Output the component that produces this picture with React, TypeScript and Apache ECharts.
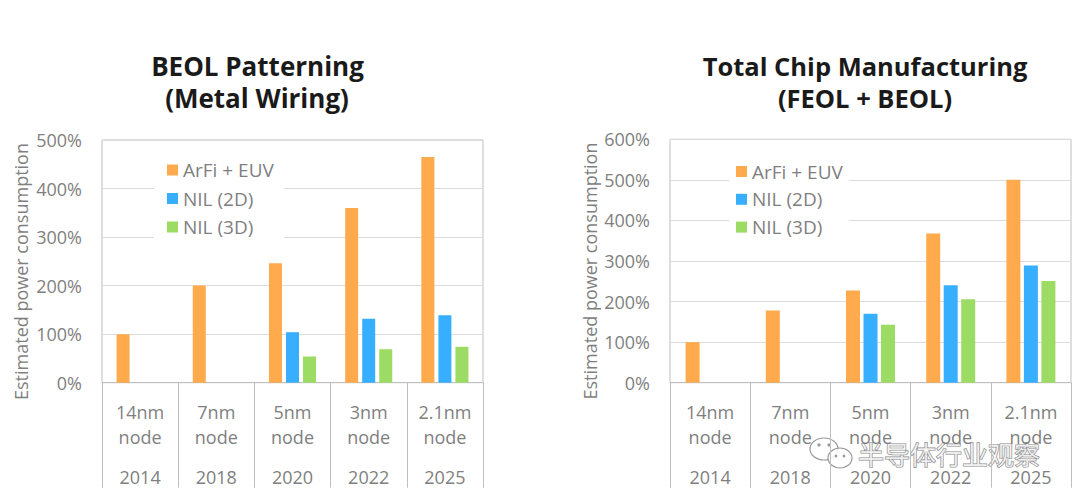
import React, { useEffect, useRef } from "react";
import * as echarts from "echarts";

const seriesNames = ["ArFi + EUV", "NIL (2D)", "NIL (3D)"];
const nodeLabels = ["14nm\nnode", "7nm\nnode", "5nm\nnode", "3nm\nnode", "2.1nm\nnode"];
const years = ["2014", "2018", "2020", "2022", "2025"];
const yAxisTitle = "Estimated power consumption";

const beolArfiEuv = [100, 200, 246, 360, 465];
const beolNil2D = [null, null, 104, 132, 139];
const beolNil3D = [null, null, 54, 69, 74];

const totalArfiEuv = [100, 178, 227, 368, 500];
const totalNil2D = [null, null, 170, 240, 289];
const totalNil3D = [null, null, 143, 206, 251];

const colors = ["#FFAA4C", "#38AEFF", "#9CDC64"];
const FONT = "'Open Sans', 'Noto Sans', sans-serif";
const GRAY = "#7f7f7f";
const LINE = "#bfbfbf";

export default function App() {
  const ref = useRef<HTMLDivElement>(null);

  useEffect(() => {
    document.body.style.margin = "0";
    if (!ref.current) return;
    const chart = echarts.init(ref.current, undefined, { renderer: "svg" });

    const grids = [
      { left: 102, right: 597, top: 140, bottom: 118.3 },
      { left: 670, right: 9, top: 139.3, bottom: 118.3 },
    ];

    const xAxes: any[] = [];
    const yAxes: any[] = [];
    [0, 1].forEach((g) => {
      xAxes.push({
        type: "category",
        gridIndex: g,
        data: nodeLabels,
        axisLine: { show: true, lineStyle: { color: LINE, width: 1 } },
        axisTick: { show: true, length: 105, interval: 0, lineStyle: { color: LINE, width: 1 } },
        axisLabel: {
          interval: 0,
          margin: 17,
          fontSize: 18,
          lineHeight: 25,
          color: GRAY,
          fontFamily: FONT,
        },
      });
      xAxes.push({
        type: "category",
        gridIndex: g,
        position: "bottom",
        data: years,
        axisLine: { show: false },
        axisTick: { show: false },
        axisLabel: {
          interval: 0,
          margin: 85,
          fontSize: 18,
          lineHeight: 18,
          color: GRAY,
          fontFamily: FONT,
        },
      });
      yAxes.push({
        type: "value",
        gridIndex: g,
        min: 0,
        max: g === 0 ? 500 : 600,
        interval: 100,
        axisLine: { show: false },
        axisTick: { show: false },
        axisLabel: {
          formatter: "{value}%",
          margin: 20,
          fontSize: 18,
          color: GRAY,
          fontFamily: FONT,
        },
        splitLine: { show: true, lineStyle: { color: "#dcdcdc", width: 1 } },
      });
    });

    const dataSets = [
      [beolArfiEuv, beolNil2D, beolNil3D],
      [totalArfiEuv, totalNil2D, totalNil3D],
    ];

    const series: any[] = [];
    [0, 1].forEach((g) => {
      dataSets[g].forEach((d, i) => {
        series.push({
          type: "bar",
          name: seriesNames[i],
          xAxisIndex: g * 2,
          yAxisIndex: g,
          data: d,
          barWidth: g === 0 ? 13 : 14,
          barGap: g === 0 ? "31%" : "25%",
          itemStyle: { color: colors[i] },
        });
      });
    });

    const legendCommon = {
      orient: "vertical",
      data: seriesNames,
      icon: "rect",
      itemWidth: 11,
      itemHeight: 11,
      itemGap: 7.5,
      backgroundColor: "#ffffff",
      selectedMode: false,
      textStyle: { fontSize: 19, lineHeight: 21, color: GRAY, fontFamily: FONT },
    };

    const titleText = (x: number, y: number, text: string, size: number) => ({
      type: "text",
      x,
      y,
      style: {
        text,
        fontSize: size,
        fontWeight: "bold",
        fontFamily: FONT,
        fill: "#1a1a1a",
        align: "center",
        verticalAlign: "middle",
      },
    });

    const axisName = (x: number, y: number) => ({
      type: "text",
      x,
      y,
      rotation: Math.PI / 2,
      style: {
        text: yAxisTitle,
        fontSize: 18,
        fontFamily: FONT,
        fill: GRAY,
        align: "center",
        verticalAlign: "middle",
      },
    });

    chart.setOption({
      animation: false,
      backgroundColor: "#ffffff",
      grid: grids.map((g) => ({
        ...g,
        show: true,
        borderColor: LINE,
        borderWidth: 1,
        backgroundColor: "transparent",
      })),
      xAxis: xAxes,
      yAxis: yAxes,
      legend: [
        { ...legendCommon, left: 154, top: 149.5, padding: [10, 10, 10, 13] },
        { ...legendCommon, left: 729, top: 151, itemGap: 6.8, padding: [10, 6, 10, 7] },
      ],
      series,
      graphic: [
        titleText(257.5, 66, "BEOL Patterning", 26),
        titleText(257, 98, "(Metal Wiring)", 26),
        titleText(865, 66, "Total Chip Manufacturing", 25.5),
        titleText(865, 98, "(FEOL + BEOL)", 25.5),
        axisName(21, 271.5),
        axisName(590, 271),
        {
          type: "group",
          z: 100,
          children: [
            {
              type: "ellipse",
              shape: { cx: 824, cy: 449, rx: 14, ry: 11 },
              style: { fill: "rgba(255,255,255,0.7)", stroke: "#9a9a9a", lineWidth: 1.2 },
            },
            {
              type: "ellipse",
              shape: { cx: 840, cy: 458, rx: 12, ry: 10 },
              style: { fill: "rgba(255,255,255,0.85)", stroke: "#9a9a9a", lineWidth: 1.2 },
            },
            { type: "circle", shape: { cx: 819, cy: 445, r: 1.6 }, style: { fill: "#9a9a9a" } },
            { type: "circle", shape: { cx: 829, cy: 445, r: 1.6 }, style: { fill: "#9a9a9a" } },
            { type: "circle", shape: { cx: 836, cy: 456, r: 1.4 }, style: { fill: "#9a9a9a" } },
            { type: "circle", shape: { cx: 844, cy: 456, r: 1.4 }, style: { fill: "#9a9a9a" } },
            {
              type: "text",
              x: 858,
              y: 453,
              style: {
                text: "半导体行业观察",
                fontSize: 26,
                fontFamily: "'Noto Sans CJK SC', sans-serif",
                fill: "rgba(255,255,255,0.75)",
                stroke: "#8a8a8a",
                lineWidth: 1.2,
                align: "left",
                verticalAlign: "middle",
              },
            },
          ],
        },
      ],
    });

    return () => {
      chart.dispose();
    };
  }, []);

  return <div ref={ref} style={{ width: 1080, height: 501 }} />;
}
